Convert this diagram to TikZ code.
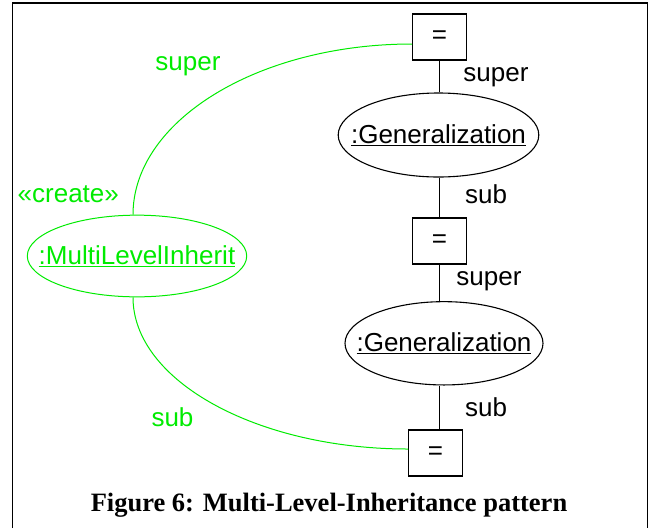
\documentclass[tikz,border=0pt]{standalone}
\usepackage{fontspec}
\setmainfont{Liberation Sans}
\newfontfamily\capfont{Liberation Serif}
\usetikzlibrary{shapes.geometric}
\definecolor{lime}{RGB}{0,235,0}
\newcommand{\objname}[1]{\makebox[0pt][c]{\underline{#1}}}
\tikzset{
  lbl/.style={inner sep=0pt, font=\fontsize{26}{30}\selectfont},
  eqbox/.style={draw, line width=1.1pt, minimum width=53.6pt, minimum height=46pt, inner sep=0pt, font=\fontsize{26}{30}\selectfont},
  obj/.style={draw, ellipse, line width=1.1pt, inner sep=0pt, font=\fontsize{26}{30}\selectfont},
  link/.style={line width=1.1pt},
  glink/.style={draw=lime, line width=1pt},
}
\begin{document}
\begin{tikzpicture}[x=1pt,y=-1pt]
\useasboundingbox (0,0) rectangle (650,528);
% frame
\draw[line width=1.4pt] (12.5,528) -- (12.5,3) -- (647.5,3) -- (647.5,528);

% chain of generalizations
\node[eqbox] (b1) at (439.5,37) {=};
\node[obj, minimum width=200.6pt, minimum height=84pt] (g1) at (438.5,135) {\objname{:Generalization}};
\node[eqbox] (b2) at (439.5,241) {=};
\node[obj, minimum width=198pt, minimum height=83.3pt] (g2) at (444,343.3) {\objname{:Generalization}};
\node[eqbox] (b3) at (435.5,453) {=};

\draw[link] (b1.south) -- (b1.south |- g1.north);
\draw[link] (b1.south |- g1.south) -- (b2.north);
\draw[link] (b2.south) -- (b2.south |- g2.north);
\draw[link] (b2.south |- g2.south) -- (b2.south |- b3.north);

\node[lbl] at (496,77) {super};
\node[lbl] at (486,194) {sub};
\node[lbl] at (489,281) {super};
\node[lbl] at (486,407) {sub};

% created object and its links
\node[obj, draw=lime, line width=1pt, text=lime, minimum width=219.4pt, minimum height=81.7pt] (mli) at (137,256) {\objname{:MultiLevelInherit}};
\draw[glink] ([xshift=-4pt]mli.north) .. controls +(0,-94) and +(-154,0) .. ([yshift=-7pt]b1.west);
\draw[glink] ([xshift=-4pt]mli.south) .. controls +(0,83.5) and +(-151,0) .. ([yshift=4pt]b3.west);

\node[lbl, text=lime] at (188,66) {super};
\node[lbl, text=lime] at (68.3,194.3) {«create»};
\node[lbl, text=lime] at (172.5,417) {sub};

% caption
\node[inner sep=0pt, anchor=base, font=\capfont\bfseries\fontsize{26.5}{30}\selectfont] (cap) at (329,511.7) {Figure 6: Multi-Level-Inheritance pattern};
\end{tikzpicture}
\end{document}
